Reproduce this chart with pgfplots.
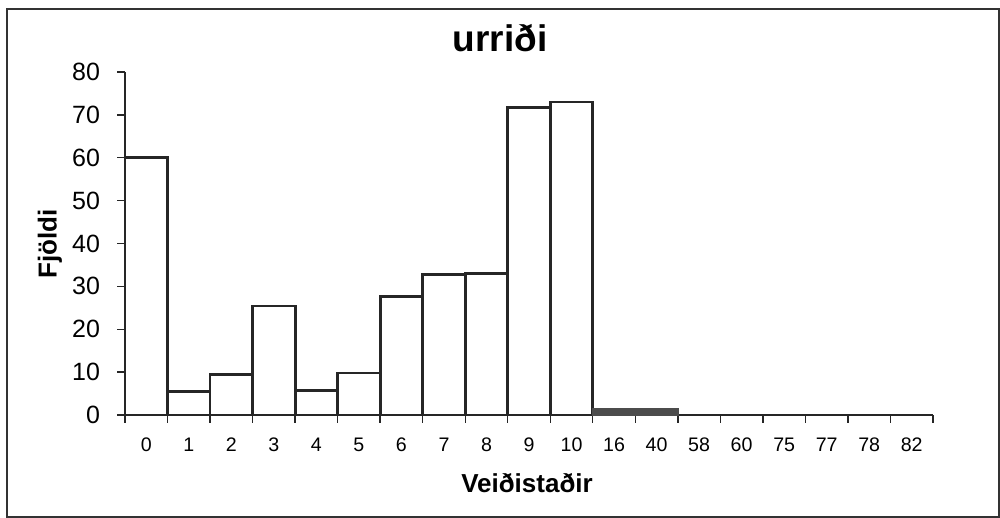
\documentclass[border=0pt]{standalone}
\usepackage{fontspec}
\setmainfont{Liberation Sans}
\usepackage{pgfplots}
\pgfplotsset{compat=1.18}
\usepackage{pgfplotstable}

% bar heights; categories at 0..18
\pgfplotstableread{
x  y
0  60
1  5.4
2  9.5
3  25.4
4  5.7
5  9.8
6  27.6
7  32.8
8  33
9  71.8
10 73
}\bars
\pgfplotstableread{
x  y
11 1.5
12 1.5
}\lowbars
\pgfplotstableread{
x  y
13 0
14 0
15 0
16 0
17 0
18 0
}\zerobars

\begin{document}
\begin{tikzpicture}[x=1pt,y=1pt]
\useasboundingbox (0,0) rectangle (500,259);
\draw[line width=0.8pt, black!80] (3.5,0.5) rectangle (499.6,254.5);
\begin{axis}[
    at={(62.5pt,51.5pt)}, anchor=south west,
    scale only axis, width=404pt, height=171.5pt,
    xmin=-0.5, xmax=18.5, ymin=0, ymax=80,
    axis x line*=bottom, axis y line*=left,
    axis line style={-, line width=0.9pt, black!85},
    ybar, bar width=1, bar shift=0pt,
    xtick={0,...,18},
    xticklabels={0,1,2,3,4,5,6,7,8,9,10,16,40,58,60,75,77,78,82},
    minor xtick={-0.5,0.5,...,18.5},
    ytick={0,10,...,80},
    tick align=outside,
    major x tick style={draw=none},
    minor x tick style={line width=0.7pt, black!85},
    minor tick length=4pt,
    major y tick style={line width=0.7pt, black!85},
    major tick length=4pt,
    /pgf/number format/assume math mode=true,
    xticklabel style={font=\fontsize{9.8}{11}\selectfont, yshift=-4pt},
    yticklabel style={font=\fontsize{12.5}{14}\selectfont, xshift=-5pt},
    clip=false,
]
\addplot[fill=white, draw=black!85, line width=1.4pt] table[x=x,y=y] {\bars};
\addplot[fill=black!70, draw=black!70, line width=1pt] table[x=x,y=y] {\lowbars};
\addplot[draw=none, fill=none] table[x=x,y=y] {\zerobars};
\end{axis}
\node[font=\bfseries\fontsize{18.5}{21}\selectfont, anchor=base] at (250,233) {urriði};
\node[font=\bfseries\fontsize{13}{15}\selectfont, anchor=base] at (263.5,12.5) {Veiðistaðir};
\node[font=\bfseries\fontsize{13}{15}\selectfont, rotate=90] at (25,137) {Fjöldi};
\end{tikzpicture}
\end{document}
